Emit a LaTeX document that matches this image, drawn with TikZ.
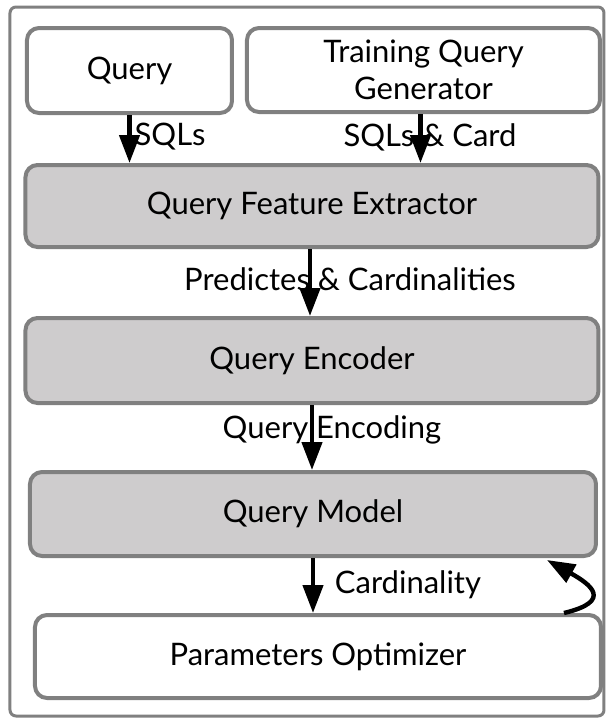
\documentclass[tikz,border=0pt]{standalone}
\usepackage{fontspec}
\setmainfont{Lato}
\usetikzlibrary{arrows.meta,calc}
\definecolor{boxedge}{HTML}{808080}
\definecolor{boxfill}{HTML}{CECCCD}
\tikzset{
  blk/.style={draw=boxedge, line width=2pt, rounded corners=6pt, inner sep=0pt,
    align=center, font=\fontsize{15.5}{18.5}\selectfont},
  whitebox/.style={blk, fill=white},
  greybox/.style={blk, fill=boxfill},
  arr/.style={line width=2.2pt, -{Triangle[width=10pt,length=14pt]}},
  lbl/.style={font=\fontsize{15.5}{18.5}\selectfont, inner sep=0pt}
}
\begin{document}
\begin{tikzpicture}[x=0.5pt,y=-0.5pt]
  \useasboundingbox (0,0) rectangle (607,720);
  \fill[white] (0,0) rectangle (607,720);
  % enclosing frame
  \draw[boxedge, line width=1.5pt, rounded corners=3pt] (10,7) rectangle (604,716);

  % input blocks
  \node[whitebox, minimum width=102.5pt, minimum height=42.5pt] (query) at (129.5,70.5) {Query};
  \node[whitebox, minimum width=176.5pt, minimum height=42pt] (gen) at (423.5,70) {Training Query\\Generator};

  % processing pipeline
  \node[greybox, minimum width=286.5pt, minimum height=41pt] (fe) at (312,206) {Query Feature Extractor};
  \node[greybox, minimum width=286.5pt, minimum height=42.5pt] (enc) at (312,360.5) {Query Encoder};
  \node[greybox, minimum width=283pt, minimum height=42pt] (model) at (313,514) {Query Model};
  \node[whitebox, minimum width=283pt, minimum height=41.5pt] (opt) at (318,656.5) {Parameters Optimizer};

  % data flow
  \draw[arr] (query.south) -- (query.south |- fe.north);
  \draw[arr] ([xshift=-1.5pt]gen.south) -- ([xshift=-1.5pt]gen.south |- fe.north);
  \draw[arr] ([xshift=-1pt]fe.south) -- ([xshift=-1pt]fe.south |- enc.north);
  \draw[arr] (enc.south) -- (enc.south |- model.north);
  \draw[arr] (model.south) -- (model.south |- opt.north);
  % feedback from the optimizer to the model
  \coordinate (fbstart) at ([xshift=-19.5pt]opt.north east);
  \coordinate (fbend) at ([xshift=-25.5pt,yshift=-1pt]model.south east);
  \draw[arr] (fbstart) .. controls ($(fbstart)+(50,-12)$) and ($(fbend)+(43,24)$) .. (fbend);

  % flow labels
  \node[lbl] (l1) at (170,137) {SQLs};
  \node[lbl] (l2) at (430,137) {SQLs \& Card};
  \node[lbl] (l3) at (350,279) {Predictes \& Cardinalities};
  \node[lbl] (l4) at (332,430) {Query Encoding};
  \node[lbl] (l5) at (408,585) {Cardinality};
\end{tikzpicture}
\end{document}
